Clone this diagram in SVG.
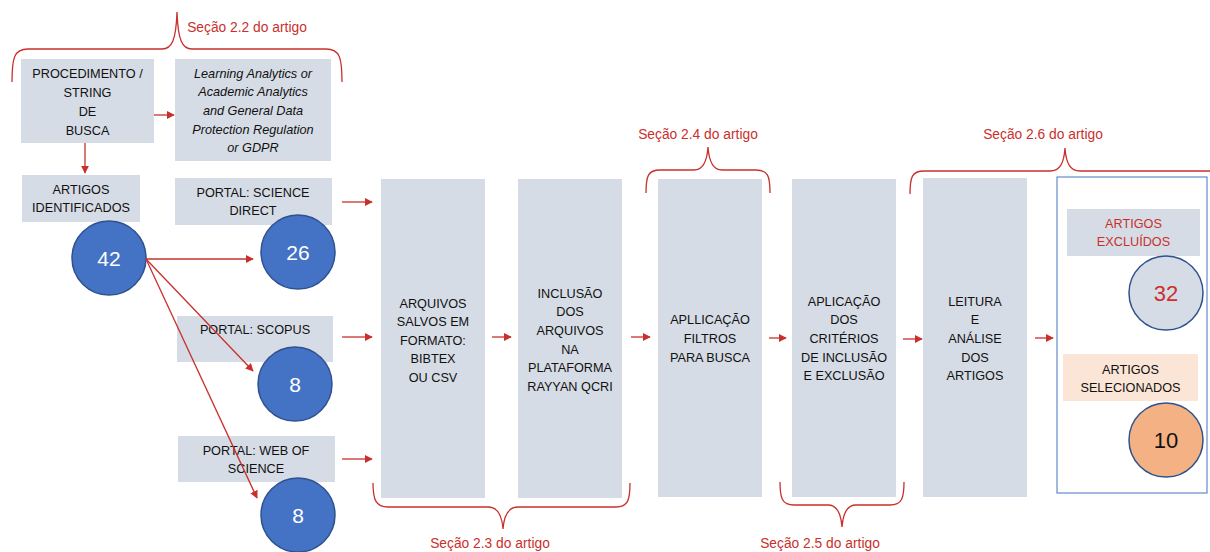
<svg xmlns="http://www.w3.org/2000/svg" width="1210" height="552" viewBox="0 0 1210 552">
<style>
.box{fill:#d6dce5}
.t{font-family:"Liberation Sans",Arial,sans-serif;font-size:12.7px;fill:#111;text-anchor:middle}
.it{font-style:italic}
.sec{font-family:"Liberation Sans",Arial,sans-serif;font-size:13.8px;fill:#c9302c;text-anchor:middle}
.brace{fill:none;stroke:#c9302c;stroke-width:1.3}
.num{font-family:"Liberation Sans",Arial,sans-serif;font-size:21px;fill:#fff;text-anchor:middle}
.circ{fill:#4472c4;stroke:#2f528f;stroke-width:1.5}
.arr{stroke:#c9302c;stroke-width:1.3;fill:none;marker-end:url(#ah)}
</style>
<defs>
<marker id="ah" viewBox="0 0 10 10" refX="9" refY="5" markerWidth="8" markerHeight="8" markerUnits="userSpaceOnUse" orient="auto">
<path d="M0,0 L10,5 L0,10 z" fill="#c9302c"/>
</marker>
</defs>
<rect width="1210" height="552" fill="#fff"/>

<g id="braces">
<path class="brace" d="M12,82 C12,58 14,49 28,49 L162,49 C172,49 176,40 177,12 C178,40 182,49 192,49 L326,49 C340,49 342,58 342,82"/>
<text class="sec" x="247" y="32">Seção 2.2 do artigo</text>
<path class="brace" d="M646,193 C646,176 648,170 660,170 L694,170 C703,170 707,162 708,147 C709,162 713,170 722,170 L756,170 C768,170 770,176 770,193"/>
<text class="sec" x="698" y="139">Seção 2.4 do artigo</text>
<path class="brace" d="M373,483 C373,500 376,507 388,507 L488,507 C498,507 502,515 503,529 C504,515 508,507 518,507 L616,507 C628,507 630,500 630,483"/>
<text class="sec" x="490" y="548">Seção 2.3 do artigo</text>
<path class="brace" d="M780,482 C780,498 782,505 794,505 L828,505 C837,505 841,513 842,527 C843,513 847,505 856,505 L890,505 C902,505 904,498 904,482"/>
<text class="sec" x="820" y="548">Seção 2.5 do artigo</text>
<path class="brace" d="M910,194 C910,177 912,171 924,171 L1050,171 C1060,171 1064,163 1065,148 C1066,163 1070,171 1080,171 L1215,171"/>
<text class="sec" x="1043" y="139">Seção 2.6 do artigo</text>
</g>

<g id="n-procedimento">
<rect class="box" x="21" y="59" width="133" height="84"/>
<text class="t" x="87.5" y="78">PROCEDIMENTO /</text>
<text class="t" x="87.5" y="97">STRING</text>
<text class="t" x="87.5" y="116">DE</text>
<text class="t" x="87.5" y="135">BUSCA</text>
</g>
<g id="n-string">
<rect class="box" x="175" y="59" width="156" height="102"/>
<text class="t it" x="253" y="78">Learning Analytics or</text>
<text class="t it" x="253" y="96">Academic Analytics</text>
<text class="t it" x="253" y="115">and General Data</text>
<text class="t it" x="253" y="134">Protection Regulation</text>
<text class="t it" x="253" y="152">or GDPR</text>
</g>
<g id="n-identificados">
<rect class="box" x="22" y="175" width="118" height="47"/>
<text class="t" x="81" y="194">ARTIGOS</text>
<text class="t" x="81" y="212">IDENTIFICADOS</text>
</g>
<g id="n-42">
<circle class="circ" cx="109" cy="258" r="37"/>
<text class="num" x="109" y="265.5">42</text>
</g>
<g id="n-sciencedirect">
<rect class="box" x="175" y="178" width="157" height="47"/>
<text class="t" x="253" y="197">PORTAL: SCIENCE</text>
<text class="t" x="253" y="215">DIRECT</text>
</g>
<g id="n-26">
<circle class="circ" cx="298" cy="252" r="37"/>
<text class="num" x="298" y="259.5">26</text>
</g>
<g id="n-scopus">
<rect class="box" x="177" y="316" width="156" height="46"/>
<text class="t" x="255" y="334">PORTAL: SCOPUS</text>
</g>
<g id="n-8a">
<circle class="circ" cx="295" cy="384" r="37"/>
<text class="num" x="295" y="391.5">8</text>
</g>
<g id="n-wos">
<rect class="box" x="178" y="436" width="157" height="46"/>
<text class="t" x="256" y="455">PORTAL: WEB OF</text>
<text class="t" x="256" y="473">SCIENCE</text>
</g>
<g id="n-8b">
<circle class="circ" cx="298" cy="515" r="37"/>
<text class="num" x="298" y="522.5">8</text>
</g>

<g id="n-arquivos">
<rect class="box" x="381" y="179" width="104" height="319"/>
<text class="t" x="433" y="308">ARQUIVOS</text>
<text class="t" x="433" y="326">SALVOS EM</text>
<text class="t" x="433" y="345">FORMATO:</text>
<text class="t" x="433" y="363">BIBTEX</text>
<text class="t" x="433" y="382">OU CSV</text>
</g>
<g id="n-inclusao">
<rect class="box" x="518" y="179" width="104" height="319"/>
<text class="t" x="570" y="298">INCLUSÃO</text>
<text class="t" x="570" y="316">DOS</text>
<text class="t" x="570" y="335">ARQUIVOS</text>
<text class="t" x="570" y="354">NA</text>
<text class="t" x="570" y="372">PLATAFORMA</text>
<text class="t" x="570" y="391">RAYYAN QCRI</text>
</g>
<g id="n-filtros">
<rect class="box" x="658" y="179" width="104" height="318"/>
<text class="t" x="710" y="324">APLLICAÇÃO</text>
<text class="t" x="710" y="343">FILTROS</text>
<text class="t" x="710" y="362">PARA BUSCA</text>
</g>
<g id="n-criterios">
<rect class="box" x="792" y="179" width="104" height="318"/>
<text class="t" x="844" y="306">APLICAÇÃO</text>
<text class="t" x="844" y="324">DOS</text>
<text class="t" x="844" y="343">CRITÉRIOS</text>
<text class="t" x="844" y="362">DE INCLUSÃO</text>
<text class="t" x="844" y="380">E EXCLUSÃO</text>
</g>
<g id="n-leitura">
<rect class="box" x="923" y="178" width="104" height="319"/>
<text class="t" x="975" y="306">LEITURA</text>
<text class="t" x="975" y="324">E</text>
<text class="t" x="975" y="343">ANÁLISE</text>
<text class="t" x="975" y="362">DOS</text>
<text class="t" x="975" y="380">ARTIGOS</text>
</g>
<g id="n-resultado">
<rect x="1057" y="177" width="150" height="316" fill="#fff" stroke="#4472c4" stroke-width="1"/>
</g>
<g id="n-excluidos">
<rect class="box" x="1067" y="209" width="133" height="47"/>
<text class="t" x="1133.5" y="228" style="fill:#c9302c">ARTIGOS</text>
<text class="t" x="1133.5" y="246" style="fill:#c9302c">EXCLUÍDOS</text>
</g>
<g id="n-32">
<circle cx="1166" cy="293" r="37" fill="#d6dce5" stroke="#2f528f" stroke-width="1.5"/>
<text class="num" x="1166" y="301" style="fill:#c9302c;font-size:22px">32</text>
</g>
<g id="n-selecionados">
<rect x="1063" y="354" width="135" height="47" fill="#fbe5d6"/>
<text class="t" x="1130.5" y="374">ARTIGOS</text>
<text class="t" x="1130.5" y="392">SELECIONADOS</text>
</g>
<g id="n-10">
<circle cx="1166" cy="440" r="37" fill="#f4b183" stroke="#2f528f" stroke-width="1.5"/>
<text class="num" x="1166" y="448" style="fill:#111;font-size:22px">10</text>
</g>

<g id="connectors">
<line class="arr" x1="154" y1="115" x2="174" y2="115"/>
<line class="arr" x1="85" y1="143" x2="85" y2="173"/>
<line class="arr" x1="146" y1="259" x2="253" y2="259"/>
<line class="arr" x1="146" y1="259" x2="253" y2="371"/>
<line class="arr" x1="146" y1="259" x2="257" y2="498"/>
<line class="arr" x1="342" y1="202" x2="372" y2="202"/>
<line class="arr" x1="342" y1="337" x2="372" y2="337"/>
<line class="arr" x1="342" y1="459" x2="372" y2="459"/>
<line class="arr" x1="492" y1="337" x2="511" y2="337"/>
<line class="arr" x1="631" y1="337" x2="650" y2="337"/>
<line class="arr" x1="769" y1="338" x2="786" y2="338"/>
<line class="arr" x1="903" y1="339" x2="922" y2="339"/>
<line class="arr" x1="1035" y1="338" x2="1053" y2="338"/>
</g>
</svg>
